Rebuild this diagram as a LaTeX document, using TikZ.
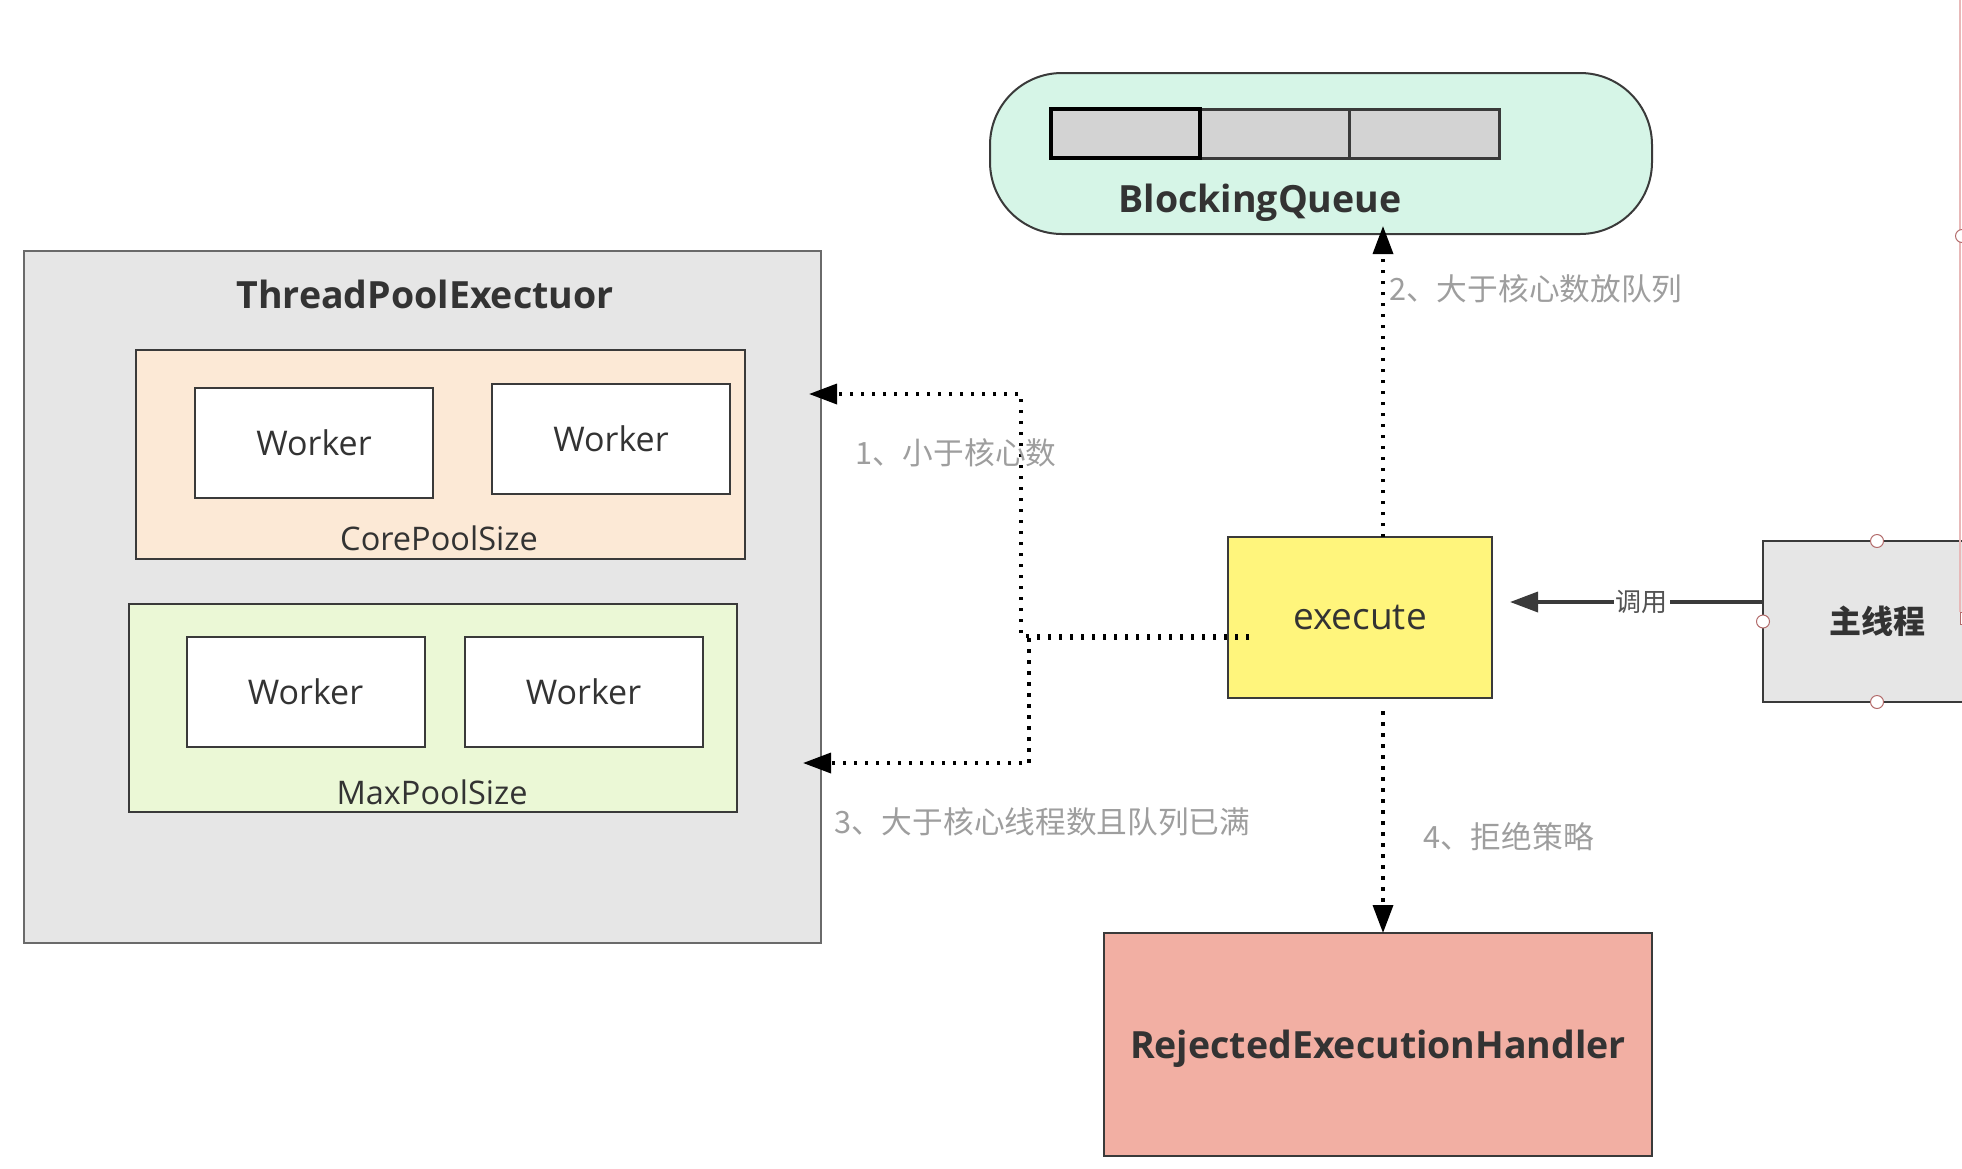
\documentclass[tikz,border=0pt]{standalone}
\usepackage{fontspec}
\setmainfont{Open Sans}
\newfontfamily\cjk{Noto Sans CJK SC}
\usetikzlibrary{arrows.meta,calc}

\definecolor{linegray}{HTML}{3A3A3A}
\definecolor{poolgray}{HTML}{E6E6E6}
\definecolor{poolline}{HTML}{6A6A6A}
\definecolor{corefill}{HTML}{FCE9D6}
\definecolor{maxfill}{HTML}{EBF8D6}
\definecolor{queuefill}{HTML}{D6F5E7}
\definecolor{cellfill}{HTML}{D3D3D3}
\definecolor{execfill}{HTML}{FFF57C}
\definecolor{rejfill}{HTML}{F2AFA3}
\definecolor{txtdark}{HTML}{333333}
\definecolor{notegray}{HTML}{9E9E9E}
\definecolor{handlered}{HTML}{B26A6A}
\definecolor{selpink}{HTML}{E8B8B8}

\tikzset{
  boxline/.style={draw=linegray, line width=2pt, inner sep=0pt, outer sep=0pt},
  worker/.style={boxline, fill=white, minimum width=238pt, minimum height=110pt,
    font=\fontsize{34}{40}\selectfont, text=txtdark, text depth=0pt},
  caption/.style={font=\fontsize{32.5}{38}\selectfont, text=txtdark, inner sep=0pt, text depth=0pt},
  heading/.style={font=\bfseries\fontsize{37.5}{44}\selectfont, text=txtdark, inner sep=0pt, text depth=0pt},
  note/.style={font=\cjk\fontsize{30.7}{36}\selectfont, text=notegray, inner sep=0pt, anchor=west},
  flow/.style={draw=black, line width=3.5pt, dash pattern=on 3.5pt off 7.5pt,
    -{Triangle[length=28pt,width=20pt]}},
  handle/.style={circle, draw=handlered, fill=white, line width=1pt, minimum size=13pt, inner sep=0pt},
}

\begin{document}
\begin{tikzpicture}[x=1pt,y=-1pt]
\useasboundingbox (0,0) rectangle (1962,1168);
\clip (0,0) rectangle (1962,1168);
\fill[white] (0,0) rectangle (1962,1168);

% thread pool with its two worker groups
\node[boxline, draw=poolline, fill=poolgray, minimum width=797pt, minimum height=692pt] (pool) at (422.5,597) {};
\node[heading] (pooltitle) at (425,294) {ThreadPoolExectuor};

\node[boxline, fill=corefill, minimum width=609pt, minimum height=209pt] (core) at (440.5,454.5) {};
\node[worker] (w1) at (314,442.5) {Worker};
\node[worker] (w2) at (611,439) {Worker};
\node[caption] (corelabel) at (439,538) {CorePoolSize};

\node[boxline, fill=maxfill, minimum width=608pt, minimum height=208pt] (max) at (433,708) {};
\node[worker] (w3) at (305.5,692) {Worker};
\node[worker] (w4) at (583.5,692) {Worker};
\node[caption] (maxlabel) at (432,792) {MaxPoolSize};

% blocking queue
\node[boxline, fill=queuefill, rounded corners=72pt, minimum width=662pt, minimum height=161pt] (queue) at (1321,153.5) {};
\node[boxline, draw=linegray, line width=3pt, fill=cellfill, minimum width=149pt, minimum height=49pt] (cell2) at (1274.5,133.5) {};
\node[boxline, draw=linegray, line width=3pt, fill=cellfill, minimum width=150pt, minimum height=49pt] (cell3) at (1424,133.5) {};
\node[boxline, draw=black, line width=3.5pt, fill=cellfill, minimum width=149pt, minimum height=49pt] (cell1) at (1125.5,133.5) {};
\node[heading] (queuelabel) at (1260,198) {BlockingQueue};

% execute, caller thread and rejection handler
\node[boxline, fill=execfill, minimum width=264pt, minimum height=161pt,
  font=\fontsize{37}{42}\selectfont, text=txtdark, text depth=0pt] (exec) at (1360,617.5) {execute};
\node[boxline, fill=poolgray, minimum width=228pt, minimum height=161pt,
  font=\cjk\bfseries\fontsize{32}{38}\selectfont, text=txtdark] (main) at (1877,621.5) {主线程};
\node[boxline, fill=rejfill, minimum width=548pt, minimum height=223pt,
  font=\bfseries\fontsize{37.5}{44}\selectfont, text=txtdark, text depth=0pt] (rej) at (1378,1044.5) {RejectedExecutionHandler};

% selection handles of the caller box
\draw[selpink, line width=1.5pt] (1960,0) -- (1960,612);
\node[handle] (hs) at (1962,236) {};
\node[handle] (ht) at (main.north) {};
\node[handle] (hb) at (main.south) {};
\node[handle] (hl) at (main.west) {};
\node[draw=handlered, fill=white, line width=1pt, minimum size=12pt, inner sep=0pt] (hr) at (1966,618) {};

% call arrow
\coordinate (calltip) at ($(exec.east)+(18,-15.5)$);
\draw[draw=linegray, line width=3.5pt, -{Triangle[length=28pt,width=20pt]}]
  ($(main.west)+(0,-19.5)$) -- node[pos=0.48, fill=white, inner sep=2pt,
  font=\cjk\fontsize{26}{31}\selectfont, text=txtdark!85] (calllabel) {调用} (calltip);

% flows out of execute
\coordinate (qtop) at ($(exec.north)+(23,0)$);
\coordinate (qtip) at ($(queue.south)+(62,-8)$);
\draw[flow] (qtop) -- (qtip);
\node[note] (n2) at (1389,289) {2、大于核心数放队列};

\coordinate (rtop) at ($(exec.south)+(23,13)$);
\coordinate (rtip) at ($(rej.north)+(5,0)$);
\draw[flow] (rtop) -- (rtip);
\node[note] (n4) at (1423,837) {4、拒绝策略};

\coordinate (src) at ($(exec.west)+(21,18.5)$);
\coordinate (coretip) at (809,394);
\coordinate (maxtip) at (803,763);
\draw[flow] (src) -- (1021,636) -- (1021,394) -- (coretip);
\draw[flow] (src) ++(0,2) -- (1029,638) -- (1029,763) -- (maxtip);
\node[note] (n1) at (855,453) {1、小于核心数};
\node[note] (n3) at (834,822) {3、大于核心线程数且队列已满};
\end{tikzpicture}
\end{document}
